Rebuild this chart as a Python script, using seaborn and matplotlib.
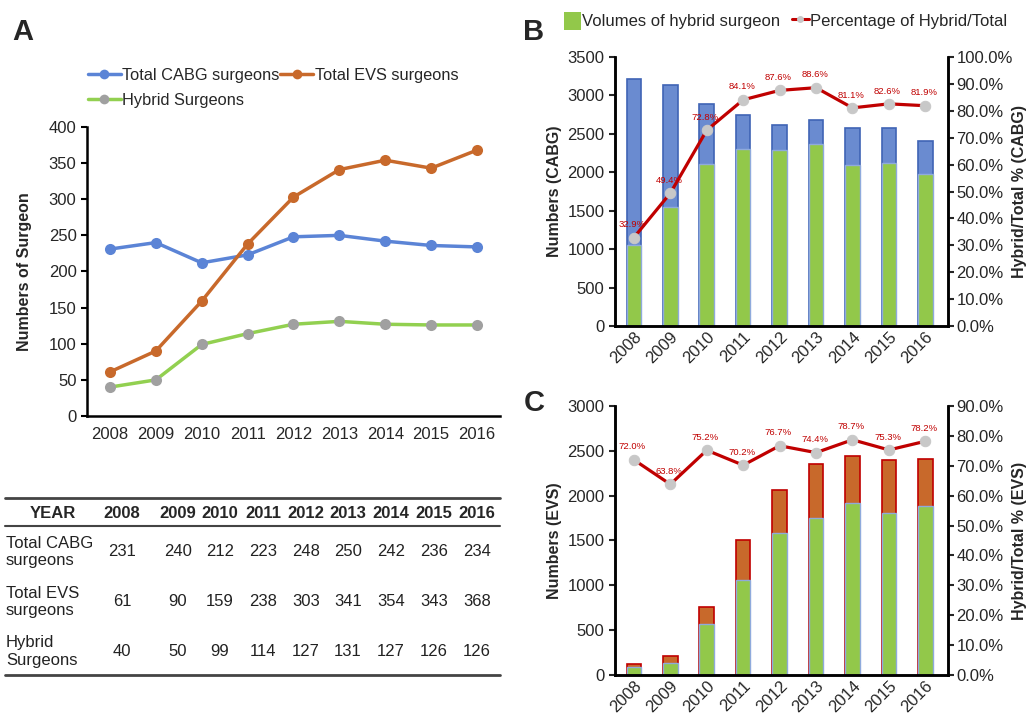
import numpy as np
import pandas as pd
import matplotlib
matplotlib.use("Agg")
import matplotlib.pyplot as plt
import seaborn as sns
from matplotlib.patches import Patch
from matplotlib.lines import Line2D
from matplotlib.ticker import FuncFormatter, MultipleLocator

sns.set_style("ticks")
plt.rcParams["font.family"] = ["Liberation Sans", "DejaVu Sans"]

# ---- data ----
years = ["2008", "2009", "2010", "2011", "2012", "2013", "2014", "2015", "2016"]
cabg_surgeons = [231, 240, 212, 223, 248, 250, 242, 236, 234]
evs_surgeons = [61, 90, 159, 238, 303, 341, 354, 343, 368]
hybrid_surgeons = [40, 50, 99, 114, 127, 131, 127, 126, 126]

# panel B (CABG volumes)
cabg_total_vol = [3210, 3140, 2890, 2745, 2615, 2680, 2580, 2575, 2410]
cabg_hybrid_vol = [1055, 1551, 2104, 2309, 2291, 2374, 2092, 2127, 1974]
cabg_pct = [32.9, 49.4, 72.8, 84.1, 87.6, 88.6, 81.1, 82.6, 81.9]

# panel C (EVS volumes)
evs_total_vol = [125, 215, 755, 1502, 2067, 2353, 2439, 2394, 2405]
evs_hybrid_vol = [90, 137, 568, 1054, 1585, 1751, 1919, 1803, 1881]
evs_pct = [72.0, 63.8, 75.2, 70.2, 76.7, 74.4, 78.7, 75.3, 78.2]

# colours
C_BLUE = "#5B84D6"
C_ORANGE = "#C8692B"
C_GREEN = "#92D050"
C_GREY = "#A0A0A0"
BAR_BLUE = "#6A8BD0"
BAR_BLUE_EDGE = "#3F64B5"
BAR_GREEN = "#92C84A"
BAR_GREEN_EDGE = "#8FAADC"
BAR_ORANGE = "#C8692B"
RED = "#C00000"
PT_GREY = "#C8C8C8"
FS = 12

fig = plt.figure(figsize=(10.28, 7.21), dpi=100)
xpos = np.arange(len(years))

# ---- panel A ----
axA = fig.add_axes([0.0846, 0.4230, 0.4018, 0.4009])
sns.lineplot(x=xpos, y=cabg_surgeons, ax=axA, color=C_BLUE, lw=2.5, marker="o",
             markersize=8, markeredgewidth=0)
sns.lineplot(x=xpos, y=evs_surgeons, ax=axA, color=C_ORANGE, lw=2.5, marker="o",
             markersize=8, markeredgewidth=0)
sns.lineplot(x=xpos, y=hybrid_surgeons, ax=axA, color=C_GREEN, lw=2.5, marker="o",
             markersize=8, markeredgewidth=0, markerfacecolor=C_GREY)
axA.set_xlim(-0.5, 8.5)
axA.set_ylim(0, 400)
axA.yaxis.set_major_locator(MultipleLocator(50))
axA.set_xticks(xpos)
axA.set_xticklabels(years, fontsize=FS)
axA.tick_params(axis="y", labelsize=FS, length=4, width=1.5, color="black")
axA.tick_params(axis="x", length=0, pad=8)
axA.set_xlabel("")
axA.set_ylabel("Numbers of Surgeon", fontsize=11.5, fontweight="bold", labelpad=12)
sns.despine(ax=axA)
for s in ["left", "bottom"]:
    axA.spines[s].set_linewidth(1.8)
    axA.spines[s].set_color("black")

handlesA = [
    Line2D([], [], color=C_BLUE, lw=2.5, marker="o", markersize=7, markeredgewidth=0),
    Line2D([], [], color=C_GREEN, lw=2.5, marker="o", markersize=7, markeredgewidth=0,
           markerfacecolor=C_GREY),
    Line2D([], [], color=C_ORANGE, lw=2.5, marker="o", markersize=7, markeredgewidth=0),
]
labelsA = ["Total CABG surgeons", "Hybrid Surgeons", "Total EVS surgeons"]
fig.legend(handlesA, labelsA, ncol=2, loc="upper left",
           bbox_to_anchor=(0.079, 0.915), frameon=False, fontsize=11.8,
           handlelength=2.0, handletextpad=0.1, columnspacing=0.05,
           labelspacing=0.6, borderaxespad=0)


def volume_panel(rect, total, hybrid, pct, top_color, top_edge, ymax, pmax,
                 ylabel, plabel):
    ax = fig.add_axes(rect)
    sns.barplot(x=years, y=total, ax=ax, color=top_color, saturation=1,
                edgecolor=top_edge, linewidth=1.2, width=0.4)
    sns.barplot(x=years, y=hybrid, ax=ax, color=BAR_GREEN, saturation=1,
                edgecolor=BAR_GREEN_EDGE, linewidth=1.0, width=0.4)
    ax.set_ylim(0, ymax)
    ax.yaxis.set_major_locator(MultipleLocator(500))
    ax.set_ylabel(ylabel, fontsize=11.5, fontweight="bold")
    ax.set_xlabel("")
    ax.tick_params(axis="y", labelsize=FS, length=4, width=1.5)
    ax.tick_params(axis="x", length=0, labelsize=FS, pad=2)
    for lab in ax.get_xticklabels():
        lab.set_rotation(45)
        lab.set_ha("right")
        lab.set_rotation_mode("anchor")

    ax2 = ax.twinx()
    sns.lineplot(x=xpos, y=pct, ax=ax2, color=RED, lw=2.3, marker="o",
                 markersize=7.5, markerfacecolor=PT_GREY, markeredgecolor=PT_GREY)
    for i, p in enumerate(pct):
        ax2.annotate(f"{p:.1f}%", (xpos[i], p), xytext=(-1, 6),
                     textcoords="offset points", ha="center", va="bottom",
                     fontsize=6.8, color=RED)
    ax2.set_ylim(0, pmax)
    ax2.yaxis.set_major_locator(MultipleLocator(10))
    ax2.yaxis.set_major_formatter(FuncFormatter(lambda v, _: f"{v:.1f}%"))
    ax2.set_ylabel(plabel, fontsize=11.5, fontweight="bold", rotation=90,
                   va="center", ha="center")
    ax2.yaxis.set_label_coords(1.215, 0.5)
    ax2.set_xlabel("")
    ax2.tick_params(axis="y", labelsize=FS, length=4, width=1.5, pad=2)
    ax.set_xlim(-0.52, 8.62)
    for a in (ax, ax2):
        a.spines["top"].set_visible(False)
        for s in ["left", "bottom", "right"]:
            a.spines[s].set_linewidth(1.8)
            a.spines[s].set_color("black")
    return ax, ax2


volume_panel([0.5982, 0.5478, 0.3239, 0.3731], cabg_total_vol, cabg_hybrid_vol,
             cabg_pct, BAR_BLUE, BAR_BLUE_EDGE, 3500, 100,
             "Numbers (CABG)", "Hybrid/Total % (CABG)")
volume_panel([0.5982, 0.0638, 0.3239, 0.3731], evs_total_vol, evs_hybrid_vol,
             evs_pct, BAR_ORANGE, RED, 3000, 90,
             "Numbers (EVS)", "Hybrid/Total % (EVS)")

handlesB = [
    Patch(facecolor=BAR_GREEN, edgecolor="none"),
    Line2D([], [], color=RED, lw=2.2, marker="o", markersize=4,
           markerfacecolor=PT_GREY, markeredgecolor=PT_GREY),
]
fig.legend(handlesB, ["Volumes of hybrid surgeon", "Percentage of Hybrid/Total"],
           ncol=2, loc="upper left", bbox_to_anchor=(0.542, 0.993), frameon=False,
           fontsize=12, handlelength=1.0, handleheight=1.3, handletextpad=0.1,
           columnspacing=0.7, borderaxespad=0)

# ---- table + panel letters (pixel coordinates overlay) ----
axT = fig.add_axes([0, 0, 1, 1])
axT.set_xlim(0, 1028)
axT.set_ylim(721, 0)
axT.axis("off")

fig.text(0.012, 0.945, "A", fontsize=21, fontweight="bold")
fig.text(0.509, 0.945, "B", fontsize=21, fontweight="bold")
fig.text(0.509, 0.43, "C", fontsize=21, fontweight="bold")

col_x = [122, 178, 220, 263, 306, 348, 391, 434, 477]
axT.plot([5, 500], [498, 498], color="#444444", lw=2)
axT.plot([5, 500], [526, 526], color="#444444", lw=1.5)
axT.plot([5, 500], [675, 675], color="#444444", lw=2)
axT.text(53, 513, "YEAR", ha="center", va="center", fontsize=FS, fontweight="bold")
for x, yr in zip(col_x, years):
    axT.text(x, 513, yr, ha="center", va="center", fontsize=FS, fontweight="bold")

row_labels = ["Total CABG\nsurgeons", "Total EVS\nsurgeons", "Hybrid\nSurgeons"]
row_vals = [cabg_surgeons, evs_surgeons, hybrid_surgeons]
row_y = [552, 602, 652]
for y, lab, vals in zip(row_y, row_labels, row_vals):
    axT.text(6, y, lab, ha="left", va="center", fontsize=FS, linespacing=1.25,
             color="#222222")
    for x, v in zip(col_x, vals):
        axT.text(x, y, str(v), ha="center", va="center", fontsize=FS, color="#222222")

fig.savefig("out.png", dpi=100)
